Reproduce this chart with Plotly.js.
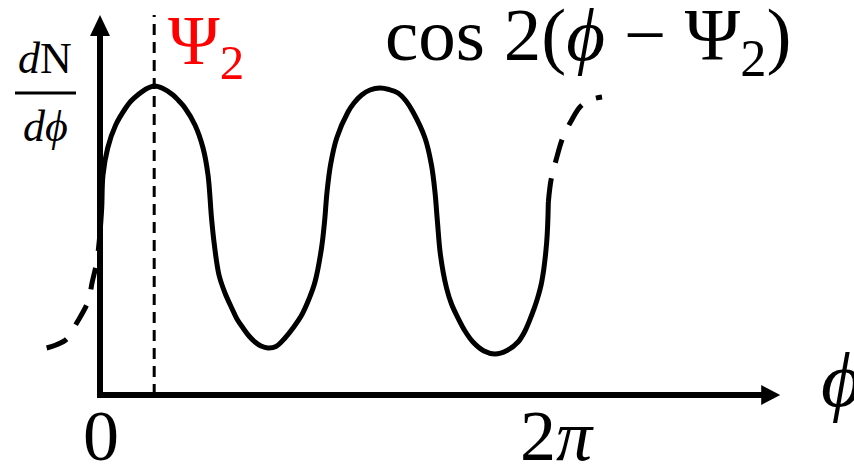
<!DOCTYPE html>
<html>
<head>
<meta charset="utf-8">
<script src="https://cdn.plot.ly/plotly-3.0.1.min.js"></script>
<style>
  html, body { margin: 0; padding: 0; background: #ffffff; }
  #chart { width: 854px; height: 470px; }
</style>
</head>
<body>
<div id="chart"></div>
<script>
// Azimuthal distribution dN/dϕ with elliptic modulation cos 2(ϕ − Ψ2)

// one full turn, 0 .. 2π (solid)
const phiSolid = [0.000, 0.024, 0.042, 0.108, 0.220, 0.360, 0.435, 0.529, 0.645, 0.762,
  0.884, 1.024, 1.108, 1.192, 1.332, 1.445, 1.515, 1.564, 1.599, 1.669,
  1.753, 1.847, 1.921, 2.006, 2.090, 2.174, 2.258, 2.356, 2.468, 2.595,
  2.707, 2.829, 2.931, 3.015, 3.107, 3.149, 3.184, 3.233, 3.320, 3.478,
  3.562, 3.670, 3.787, 3.927, 4.053, 4.180, 4.292, 4.390, 4.558, 4.649,
  4.698, 4.733, 4.775, 4.860, 4.930, 5.021, 5.119, 5.231, 5.386, 5.540,
  5.708, 5.863, 5.961, 6.055, 6.129, 6.195, 6.265, 6.288];
const dNSolid = [1.62, 1.87, 2.20, 2.47, 2.70, 2.87, 2.94, 3.00, 3.06, 3.09,
  3.065, 3.00, 2.94, 2.87, 2.70, 2.47, 2.20, 1.77, 1.53, 1.20,
  1.02, 0.87, 0.76, 0.67, 0.59, 0.53, 0.49, 0.47, 0.485, 0.57,
  0.67, 0.80, 0.96, 1.13, 1.47, 1.73, 2.03, 2.30, 2.57, 2.83,
  2.92, 3.00, 3.05, 3.07, 3.055, 3.02, 2.94, 2.83, 2.57, 2.30,
  2.03, 1.73, 1.40, 1.07, 0.91, 0.77, 0.64, 0.53, 0.44, 0.41,
  0.445, 0.53, 0.64, 0.80, 0.95, 1.13, 1.53, 1.93];

// continuation below 0 (dashed)
const phiLeft = [-0.748, -0.617, -0.467, -0.327, -0.164, -0.112, -0.046, 0];
const dNLeft = [0.47, 0.50, 0.56, 0.72, 0.94, 1.12, 1.33, 1.62];

// continuation beyond 2π (dashed)
const phiRight = [6.288, 6.326, 6.396, 6.494, 6.616, 6.732, 6.872, 7.041];
const dNRight = [1.93, 2.15, 2.35, 2.58, 2.75, 2.88, 2.95, 2.98];

// event-plane angle
const psi2 = 0.76;

// axis ticks and arrow ends
const xTickVals = [0, 2 * Math.PI];
const xTickText = ['0', '2<i>π</i>'];
const phiAxisEnd = 9.54;
const dNAxisEnd = 3.80;

const serif = 'Liberation Serif, DejaVu Serif, serif';
const W = 854, PLOT_H = 410;
const px = v => v / W;                  // pixel column -> paper x
const py = v => (PLOT_H - v) / PLOT_H;  // pixel row -> paper y

const curveLine = { color: '#000000', width: 5, shape: 'spline', smoothing: 1 };

const traces = [
  { type: 'scatter', mode: 'lines', x: phiSolid, y: dNSolid, line: curveLine, hoverinfo: 'skip' },
  { type: 'scatter', mode: 'lines', x: phiLeft, y: dNLeft,
    line: Object.assign({}, curveLine, { dash: '22px,17px' }), hoverinfo: 'skip' },
  { type: 'scatter', mode: 'lines', x: phiRight, y: dNRight,
    line: Object.assign({}, curveLine, { dash: '24px,16px' }), hoverinfo: 'skip' }
];

const shapes = [
  // Ψ2 reference line
  { type: 'line', xref: 'x', yref: 'y', x0: psi2, x1: psi2, y0: 0, y1: dNAxisEnd,
    line: { color: '#000000', width: 3, dash: '11px,7px' } },
  // vertical axis
  { type: 'line', xref: 'x', yref: 'y', x0: 0, x1: 0, y0: -0.03, y1: dNAxisEnd - 0.15,
    line: { color: '#000000', width: 6 } },
  // horizontal axis
  { type: 'line', xref: 'x', yref: 'y', x0: -0.04, x1: phiAxisEnd - 0.2, y0: 0, y1: 0,
    line: { color: '#000000', width: 6 } },
  // arrow heads
  { type: 'path', xref: 'x', yref: 'y', xsizemode: 'pixel', ysizemode: 'pixel',
    xanchor: 0, yanchor: dNAxisEnd, path: 'M -10,-21 L 0,0 L 10,-21 Z',
    fillcolor: '#000000', line: { width: 0 } },
  { type: 'path', xref: 'x', yref: 'y', xsizemode: 'pixel', ysizemode: 'pixel',
    xanchor: phiAxisEnd, yanchor: 0, path: 'M -19,10 L 0,0 L -19,-10 Z',
    fillcolor: '#000000', line: { width: 0 } },
  // fraction bar of dN/dϕ
  { type: 'line', xref: 'paper', yref: 'paper', x0: px(15), x1: px(76), y0: py(93), y1: py(93),
    line: { color: '#000000', width: 3 } }
];

const tickShift = [1, 9];
const tickLabels = xTickVals.map((v, i) => ({
  text: xTickText[i], xref: 'x', yref: 'paper', x: v, y: py(436), xshift: tickShift[i],
  xanchor: 'center', yanchor: 'middle', showarrow: false, borderpad: 0,
  font: { family: serif, size: 72, color: '#000000' }
}));

const annotations = tickLabels.concat([
  { text: '<i>d</i>N', xref: 'paper', yref: 'paper', x: px(45), y: py(58),
    xanchor: 'center', yanchor: 'middle', showarrow: false,
    font: { family: serif, size: 44, color: '#000000' } },
  { text: '<i>dϕ</i>', xref: 'paper', yref: 'paper', x: px(45), y: py(126),
    xanchor: 'center', yanchor: 'middle', showarrow: false,
    font: { family: serif, size: 44, color: '#000000' } },
  { text: 'Ψ<sub>2</sub>', xref: 'paper', yref: 'paper', x: px(206), y: py(46),
    xanchor: 'center', yanchor: 'middle', showarrow: false,
    font: { family: serif, size: 70, color: '#ff0000' } },
  { text: 'cos 2(<i>ϕ</i> − Ψ<sub>2</sub>)', xref: 'paper', yref: 'paper', x: px(588), y: py(40),
    xanchor: 'center', yanchor: 'middle', showarrow: false,
    font: { family: serif, size: 75, color: '#000000' } },
  { text: '<i>ϕ</i>', xref: 'paper', yref: 'paper', x: px(841), y: py(379),
    xanchor: 'center', yanchor: 'middle', showarrow: false,
    font: { family: serif, size: 78, color: '#000000' } }
]);

const layout = {
  width: W, height: 470,
  margin: { l: 0, r: 0, t: 0, b: 470 - PLOT_H, pad: 0 },
  paper_bgcolor: '#ffffff', plot_bgcolor: '#ffffff',
  showlegend: false,
  xaxis: {
    range: [-1.4025, 10.575], showgrid: false, zeroline: false, showline: false,
    showticklabels: false, ticks: '', fixedrange: true
  },
  yaxis: {
    range: [-0.15, 3.95], showgrid: false, zeroline: false, showline: false,
    showticklabels: false, ticks: '', fixedrange: true
  },
  shapes: shapes,
  annotations: annotations
};

Plotly.newPlot('chart', traces, layout, { staticPlot: true, displayModeBar: false });
</script>
</body>
</html>
